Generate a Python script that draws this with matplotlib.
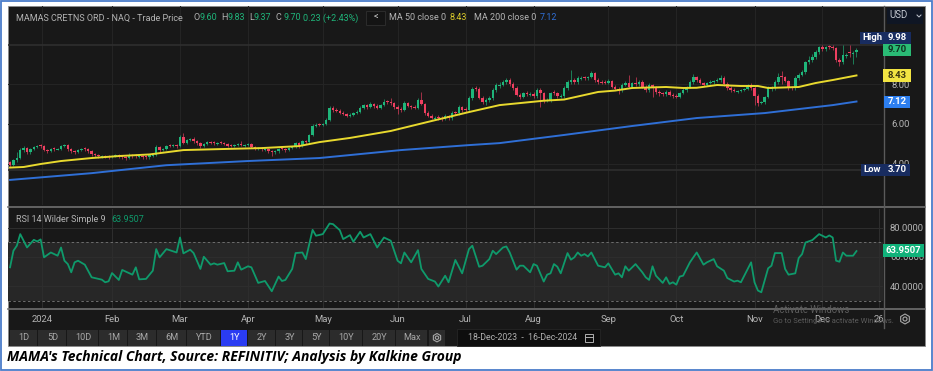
#!/bin/env python3

import matplotlib
matplotlib.use("Agg")
import matplotlib.pyplot as plt
from matplotlib.patches import Rectangle, RegularPolygon, Circle

W, H = 933, 371
plt.rcParams['font.family'] = ['Roboto', 'DejaVu Sans']

# daily candles, 18-Dec-2023 to 16-Dec-2024
opens = [
    4.08, 3.93, 4.18, 4.28, 4.68, 4.78, 4.58, 4.73, 4.83, 4.93,
    4.88, 4.68, 4.63, 4.78, 4.70, 4.73, 4.88, 4.93, 4.73, 4.63,
    4.58, 4.68, 4.78, 4.73, 4.63, 4.48, 4.43, 4.33, 4.38, 4.36,
    4.33, 4.38, 4.43, 4.38, 4.33, 4.28, 4.43, 4.42, 4.34, 4.38,
    4.37, 4.33, 4.40, 4.43, 4.83, 4.68, 4.73, 4.92, 4.88, 4.93,
    4.88, 5.34, 5.03, 5.19, 5.24, 5.13, 5.03, 4.88, 4.98, 5.08,
    5.07, 4.99, 5.07, 5.03, 4.98, 4.92, 4.88, 4.93, 4.98, 4.90,
    4.93, 4.98, 4.83, 4.74, 4.78, 4.69, 4.73, 4.63, 4.58, 4.63,
    4.77, 4.73, 4.68, 4.78, 4.83, 5.03, 4.88, 5.13, 5.08, 5.44,
    5.89, 5.98, 5.94, 5.99, 6.19, 6.79, 6.69, 6.64, 6.54, 6.49,
    6.39, 6.44, 6.54, 6.59, 6.79, 6.94, 6.84, 6.99, 6.89, 6.79,
    6.94, 7.13, 7.09, 7.04, 6.84, 6.74, 6.69, 7.04, 6.89, 6.84,
    6.79, 7.19, 6.99, 6.54, 6.39, 6.25, 6.33, 6.29, 6.24, 6.39,
    6.29, 6.58, 6.54, 6.84, 6.73, 6.69, 7.30, 7.80, 7.75, 7.30,
    7.09, 7.19, 7.30, 7.70, 7.90, 7.95, 8.10, 8.20, 8.00, 7.80,
    7.45, 7.35, 7.55, 7.45, 7.50, 7.40, 7.70, 7.55, 7.14, 7.19,
    7.60, 7.55, 7.35, 7.40, 7.80, 8.10, 8.20, 8.10, 8.25, 8.35,
    8.30, 8.35, 8.55, 8.20, 8.10, 8.10, 8.05, 8.15, 7.85, 7.75,
    7.70, 7.95, 8.05, 7.85, 8.05, 8.00, 8.10, 7.85, 7.70, 7.95,
    7.85, 7.60, 7.55, 7.50, 7.60, 7.45, 7.40, 7.35, 7.55, 7.70,
    7.85, 8.10, 8.35, 8.20, 8.05, 7.95, 8.05, 8.10, 8.15, 8.20,
    8.30, 8.00, 7.80, 7.70, 7.61, 7.65, 7.70, 7.75, 7.95, 7.80,
    7.40, 7.04, 7.09, 7.35, 7.75, 7.80, 8.10, 8.40, 8.35, 8.15,
    7.85, 7.80, 8.30, 8.45, 8.60, 9.10, 9.20, 9.35, 9.61, 9.86,
    9.76, 9.90, 9.86, 9.81, 9.20, 9.10, 9.42, 9.60, 9.50, 9.60,
]
closes = [
    3.93, 4.18, 4.28, 4.68, 4.78, 4.58, 4.73, 4.83, 4.88, 4.88,
    4.68, 4.63, 4.73, 4.73, 4.73, 4.88, 4.93, 4.73, 4.63, 4.58,
    4.68, 4.73, 4.73, 4.63, 4.48, 4.43, 4.38, 4.38, 4.33, 4.33,
    4.38, 4.43, 4.38, 4.33, 4.28, 4.43, 4.38, 4.38, 4.38, 4.33,
    4.33, 4.43, 4.43, 4.83, 4.68, 4.73, 4.88, 4.88, 4.93, 4.88,
    5.34, 5.03, 5.19, 5.24, 5.13, 5.03, 4.88, 4.98, 5.08, 5.03,
    5.03, 5.03, 5.03, 4.98, 4.88, 4.88, 4.93, 4.98, 4.93, 4.93,
    4.98, 4.83, 4.78, 4.78, 4.73, 4.73, 4.63, 4.58, 4.63, 4.73,
    4.73, 4.68, 4.78, 4.83, 5.03, 4.88, 5.13, 5.08, 5.44, 5.89,
    5.94, 5.94, 5.99, 6.19, 6.79, 6.69, 6.64, 6.54, 6.49, 6.39,
    6.44, 6.54, 6.59, 6.79, 6.94, 6.84, 6.99, 6.89, 6.79, 6.94,
    7.09, 7.09, 7.04, 6.84, 6.74, 6.69, 7.04, 6.89, 6.84, 6.79,
    7.19, 6.99, 6.54, 6.39, 6.29, 6.29, 6.29, 6.24, 6.39, 6.29,
    6.54, 6.54, 6.84, 6.69, 6.69, 7.30, 7.75, 7.75, 7.30, 7.09,
    7.19, 7.30, 7.70, 7.95, 7.95, 8.10, 8.20, 8.00, 7.80, 7.45,
    7.35, 7.55, 7.50, 7.50, 7.40, 7.70, 7.55, 7.14, 7.19, 7.55,
    7.55, 7.40, 7.40, 7.80, 8.10, 8.20, 8.10, 8.30, 8.30, 8.30,
    8.35, 8.55, 8.20, 8.10, 8.05, 8.05, 8.15, 7.85, 7.75, 7.70,
    7.95, 8.05, 7.85, 8.05, 8.00, 8.10, 7.85, 7.70, 7.95, 7.85,
    7.60, 7.55, 7.50, 7.60, 7.45, 7.40, 7.35, 7.55, 7.70, 7.85,
    8.10, 8.35, 8.20, 8.05, 7.95, 8.05, 8.10, 8.15, 8.20, 8.30,
    8.00, 7.80, 7.70, 7.65, 7.65, 7.70, 7.75, 7.95, 7.80, 7.40,
    7.04, 7.09, 7.35, 7.80, 7.80, 8.10, 8.35, 8.35, 8.15, 7.85,
    7.80, 8.30, 8.45, 8.60, 9.10, 9.20, 9.35, 9.61, 9.86, 9.76,
    9.86, 9.86, 9.81, 9.20, 9.10, 9.46, 9.46, 9.56, 9.56, 9.70,
]
highs = [
    4.15, 4.25, 4.60, 4.80, 4.90, 4.85, 4.80, 4.90, 4.95, 4.98,
    4.95, 4.75, 4.80, 4.82, 4.80, 4.95, 5.00, 5.00, 4.80, 4.68,
    4.75, 4.80, 4.85, 4.78, 4.68, 4.55, 4.48, 4.43, 4.45, 4.42,
    4.45, 4.50, 4.50, 4.45, 4.38, 4.52, 4.50, 4.48, 4.45, 4.45,
    4.45, 4.50, 4.50, 4.95, 4.90, 4.80, 4.95, 5.00, 5.00, 5.00,
    5.42, 5.55, 5.25, 5.30, 5.32, 5.20, 5.10, 5.05, 5.15, 5.15,
    5.12, 5.08, 5.12, 5.10, 5.05, 5.00, 5.00, 5.05, 5.15, 5.00,
    5.05, 5.05, 4.90, 4.85, 4.85, 4.80, 4.80, 4.70, 4.70, 4.80,
    4.85, 4.80, 4.85, 4.90, 5.10, 5.10, 5.20, 5.20, 5.50, 5.98,
    6.05, 6.05, 6.05, 6.30, 6.90, 6.88, 6.80, 6.72, 6.62, 6.55,
    6.52, 6.60, 6.70, 6.88, 7.02, 7.00, 7.08, 7.05, 7.00, 7.02,
    7.25, 7.22, 7.30, 7.12, 6.92, 6.85, 7.15, 7.12, 6.95, 6.92,
    7.32, 7.60, 7.05, 6.62, 6.48, 6.40, 6.42, 6.38, 6.48, 6.45,
    6.62, 6.65, 6.92, 6.90, 6.82, 7.38, 7.85, 7.92, 7.85, 7.38,
    7.28, 7.38, 7.78, 8.05, 8.08, 8.18, 8.32, 8.28, 8.08, 7.88,
    7.55, 7.62, 7.65, 7.60, 7.58, 7.80, 7.78, 7.62, 7.28, 7.62,
    7.70, 7.62, 7.50, 7.88, 8.18, 8.68, 8.30, 8.38, 8.40, 8.42,
    8.42, 8.65, 8.62, 8.28, 8.18, 8.18, 8.25, 8.22, 7.95, 7.85,
    8.05, 8.15, 8.45, 8.12, 8.35, 8.18, 8.18, 7.95, 8.05, 8.02,
    7.92, 7.70, 7.62, 7.68, 7.70, 7.55, 7.48, 7.62, 7.78, 7.92,
    8.18, 8.50, 8.42, 8.28, 8.12, 8.12, 8.18, 8.22, 8.28, 8.45,
    8.40, 8.08, 7.88, 7.78, 7.72, 7.75, 7.82, 8.02, 8.05, 7.88,
    7.48, 7.15, 7.42, 7.88, 7.90, 8.18, 8.55, 8.65, 8.42, 8.22,
    7.92, 8.38, 8.55, 8.68, 9.18, 9.40, 9.50, 9.70, 9.92, 9.95,
    9.92, 9.96, 9.98, 9.88, 9.30, 9.95, 9.55, 9.95, 9.66, 9.83,
]
lows = [
    3.85, 3.88, 4.10, 4.22, 4.60, 4.50, 4.50, 4.68, 4.76, 4.80,
    4.62, 4.55, 4.58, 4.65, 4.66, 4.68, 4.82, 4.65, 4.55, 4.50,
    4.52, 4.62, 4.65, 4.55, 4.40, 4.35, 4.30, 4.28, 4.26, 4.25,
    4.28, 4.32, 4.30, 4.25, 4.18, 4.22, 4.28, 4.30, 4.28, 4.25,
    4.25, 4.25, 4.35, 4.38, 4.60, 4.62, 4.68, 4.82, 4.82, 4.80,
    4.82, 4.98, 4.98, 5.12, 5.05, 4.95, 4.80, 4.82, 4.92, 4.98,
    4.95, 4.95, 4.98, 4.92, 4.82, 4.82, 4.82, 4.88, 4.86, 4.84,
    4.88, 4.76, 4.70, 4.68, 4.65, 4.62, 4.55, 4.38, 4.50, 4.55,
    4.66, 4.60, 4.62, 4.72, 4.78, 4.80, 4.82, 5.00, 5.00, 5.38,
    5.82, 5.88, 5.88, 5.92, 6.12, 6.60, 6.58, 6.48, 6.42, 6.32,
    6.32, 6.38, 6.48, 6.52, 6.72, 6.75, 6.78, 6.80, 6.72, 6.72,
    6.88, 7.00, 6.95, 6.75, 6.50, 6.60, 6.62, 6.82, 6.75, 6.72,
    6.72, 6.92, 6.45, 6.32, 6.22, 6.18, 6.20, 6.15, 6.18, 6.20,
    6.18, 6.45, 6.45, 6.60, 6.60, 6.62, 7.22, 7.65, 7.25, 7.02,
    6.95, 7.10, 7.22, 7.62, 7.82, 7.88, 8.02, 7.92, 7.72, 7.38,
    7.25, 7.28, 7.42, 7.38, 7.30, 7.32, 6.85, 7.05, 7.08, 7.12,
    7.45, 7.32, 7.28, 7.32, 7.72, 8.00, 8.02, 8.02, 8.18, 8.22,
    8.22, 8.28, 8.12, 8.02, 7.98, 7.98, 7.98, 7.78, 7.68, 7.50,
    7.62, 7.88, 7.78, 7.78, 7.92, 7.92, 7.78, 7.62, 7.62, 7.35,
    7.52, 7.42, 7.42, 7.42, 7.38, 7.32, 7.28, 7.28, 7.48, 7.62,
    7.78, 8.02, 8.12, 7.98, 7.88, 7.88, 7.98, 8.02, 8.08, 8.12,
    7.92, 7.72, 7.62, 7.58, 7.55, 7.60, 7.65, 7.68, 7.72, 6.95,
    6.90, 6.98, 7.02, 7.28, 7.65, 7.72, 8.02, 8.00, 8.08, 7.70,
    7.70, 7.72, 8.22, 8.38, 8.52, 9.02, 9.12, 9.28, 9.52, 9.68,
    9.65, 9.78, 9.70, 9.10, 8.92, 9.02, 9.30, 9.35, 9.00, 9.37,
]

ma50_day = [0, 4, 9, 15, 24, 32, 41, 51, 62, 74, 85, 91, 100, 112, 124, 135,
            144, 157, 163, 173, 178, 183, 193, 198, 202, 208, 215, 220, 223,
            232, 237, 242, 249]
ma50 = [3.80, 3.83, 3.98, 4.13, 4.28, 4.38, 4.46, 4.68, 4.73, 4.78, 4.88,
        5.08, 5.29, 5.64, 6.14, 6.59, 6.94, 7.16, 7.22, 7.60, 7.67, 7.80,
        7.85, 7.80, 7.81, 7.95, 7.90, 7.90, 7.80, 7.85, 8.05, 8.20, 8.43]

ma200_day = [0, 24, 46, 70, 91, 115, 135, 144, 163, 183, 202, 222, 232, 242, 249]
ma200 = [3.18, 3.52, 3.92, 4.13, 4.28, 4.68, 4.93, 5.03, 5.44, 5.89, 6.29,
         6.54, 6.74, 6.94, 7.12]

rsi_day = [
    0, 1, 2, 3, 5, 7, 8, 9, 10, 12, 14, 15, 16, 17, 18, 19, 20, 22, 24, 27,
    28, 29, 30, 32, 33, 35, 36, 37, 38, 40, 42, 43, 44, 46, 49, 50, 51, 53,
    54, 56, 57, 59, 60, 61, 63, 64, 66, 67, 68, 70, 71, 73, 75, 77, 79, 80,
    81, 83, 84, 86, 87, 89, 90, 92, 94, 95, 97, 98, 100, 101, 103, 104, 106,
    108, 110, 112, 114, 115, 116, 118, 120, 121, 123, 125, 126, 128, 129,
    131, 133, 135, 136, 138, 139, 141, 142, 143, 145, 146, 147, 149, 150,
    151, 153, 154, 155, 157, 158, 159, 160, 161, 162, 164, 165, 166, 167,
    168, 169, 170, 171, 173, 175, 176, 178, 179, 180, 181, 182, 184, 186,
    187, 188, 189, 190, 192, 193, 194, 195, 196, 197, 198, 200, 202, 204,
    205, 207, 208, 210, 211, 213, 214, 215, 218, 219, 220, 221, 223, 224,
    225, 227, 228, 229, 231, 232, 233, 234, 236, 238, 240, 241, 242, 243,
    244, 245, 246, 248, 249,
]
rsi = [
    52.9, 64.2, 67.6, 75.5, 66.4, 71.6, 70.5, 71.9, 59.7, 63.0, 60.8, 66.4,
    57.4, 55.1, 49.5, 56.3, 57.4, 54.7, 46.1, 44.5, 42.7, 43.4, 49.0, 44.3,
    51.1, 49.0, 47.9, 52.9, 44.7, 45.0, 50.6, 65.3, 59.7, 65.3, 63.0, 73.2,
    62.4, 64.9, 62.6, 51.8, 60.1, 54.7, 55.6, 54.7, 55.8, 50.2, 50.6, 56.3,
    51.3, 53.6, 52.9, 42.3, 43.6, 36.6, 46.6, 43.6, 44.3, 51.8, 62.6, 63.0,
    58.5, 78.4, 74.4, 75.5, 82.7, 82.3, 78.2, 72.1, 74.8, 70.3, 77.1, 73.2,
    75.5, 66.4, 73.2, 71.0, 57.4, 55.6, 63.0, 56.3, 64.6, 51.8, 45.0, 43.2,
    39.8, 47.2, 42.7, 57.9, 48.8, 65.3, 67.6, 53.3, 54.0, 58.5, 64.2, 61.9,
    66.4, 67.1, 63.0, 51.3, 54.0, 54.0, 49.5, 55.1, 54.0, 43.2, 47.9, 48.8,
    55.1, 53.3, 48.8, 62.6, 58.1, 59.7, 63.0, 60.8, 61.9, 60.3, 63.0, 54.0,
    52.9, 55.6, 47.9, 48.8, 46.1, 53.6, 50.6, 55.1, 49.5, 46.1, 44.3, 53.6,
    47.2, 42.3, 46.1, 41.6, 42.7, 41.1, 46.6, 47.2, 56.3, 63.0, 54.7, 56.3,
    58.5, 53.6, 50.6, 45.6, 43.2, 43.8, 42.7, 56.3, 42.7, 37.1, 35.9, 52.2,
    54.0, 62.6, 62.6, 51.8, 47.9, 48.8, 59.2, 61.9, 69.8, 71.4, 75.5, 73.2,
    74.6, 73.2, 57.4, 56.7, 63.0, 60.8, 60.8, 63.95,
]

month_pos = [9.4, 30, 50, 70, 92, 114, 134, 154, 176, 196, 219, 239, 255.6]
month_labels = ["2024", "Feb", "Mar", "Apr", "May", "Jun", "Jul", "Aug", "Sep",
                "Oct", "Nov", "Dec", "26"]
price_ticks = [4, 6, 8]
rsi_ticks = [40, 60, 80]
ranges = ["1D", "5D", "10D", "1M", "3M", "6M", "YTD", "1Y", "2Y", "3Y", "5Y",
          "10Y", "20Y", "Max"]
range_edges = [10, 38, 67, 99, 128, 157, 187, 221, 248, 276, 303, 330, 363, 396, 428]

BG = "#181818"
GRID = "#242424"
TXT = "#b4b4b4"
GREEN = "#1fb57a"
RED = "#ee3f60"


def px_axes(fig, x0, y0, x1, y1):
    # axes given in picture pixels, y from the top
    return fig.add_axes([x0 / W, 1 - y1 / H, (x1 - x0) / W, (y1 - y0) / H])


fig = plt.figure(figsize=(W / 100, H / 100), dpi=100, facecolor="white")

back = px_axes(fig, 0, 0, W, H)
back.set_xlim(0, W)
back.set_ylim(H, 0)
back.axis("off")
back.add_patch(Rectangle((1, 1), W - 2, H - 2, fc="white", ec="#4a7cc9", lw=1.3))
back.add_patch(Rectangle((8, 6), 917, 339.5, fc=BG, ec="#8a8a8a", lw=0.6))

xlim = (-0.6, 256.8)

# price panel
ax = px_axes(fig, 8, 6, 883, 205)
ax.set_facecolor("none")
ax.set_xlim(*xlim)
ax.set_ylim(1.92, 11.92)
for s in ax.spines.values():
    s.set_visible(False)
ax.yaxis.tick_right()
ax.set_yticks(price_ticks)
ax.set_yticklabels(["4.00", "6.00", "8.00"], color=TXT, fontsize=6.8)
ax.tick_params(axis="y", length=0, pad=6)
ax.set_xticks(month_pos[:-1])
ax.tick_params(axis="x", length=0, labelbottom=False)
ax.grid(True, color=GRID, lw=0.8)
ax.axhline(9.98, color="#2e2e2e", lw=1.2)
ax.axhline(3.70, color="#2e2e2e", lw=1.2)
ax.set_axisbelow(True)

days = list(range(len(closes)))
colors = [GREEN if c >= o else RED for o, c in zip(opens, closes)]
ax.vlines(days, lows, highs, colors=colors, lw=0.6, alpha=0.75, zorder=2)
ax.bar(days, [abs(c - o) for o, c in zip(opens, closes)],
       bottom=[min(o, c) for o, c in zip(opens, closes)],
       width=0.72, color=colors, lw=0, zorder=3)
ax.plot(ma200_day, ma200, color="#2f6fd6", lw=1.4, zorder=4)
ax.plot(ma50_day, ma50, color="#e8d92e", lw=1.4, zorder=5)

# RSI panel
ax2 = px_axes(fig, 8, 209, 883, 308)
ax2.set_facecolor("none")
ax2.set_xlim(*xlim)
ax2.set_ylim(25.2, 92.6)
for s in ax2.spines.values():
    s.set_visible(False)
ax2.axhspan(30, 70, color="#272727", lw=0, zorder=0)
ax2.axhline(70, color="#6e6e6e", lw=0.7, ls=(0, (2.5, 2.5)))
ax2.axhline(30, color="#6e6e6e", lw=0.7, ls=(0, (2.5, 2.5)))
ax2.yaxis.tick_right()
ax2.set_yticks(rsi_ticks)
ax2.set_yticklabels(["40.0000", "60.0000", "80.0000"], color=TXT, fontsize=6.8)
ax2.tick_params(axis="y", length=0, pad=5)
ax2.set_xticks(month_pos)
ax2.set_xticklabels(month_labels, color=TXT, fontsize=6.8)
ax2.tick_params(axis="x", length=0, pad=5)
ax2.grid(True, color="#2e2e2e", lw=0.7)
ax2.set_axisbelow(True)
ax2.plot(rsi_day, rsi, color="#0f9a6b", lw=1.3, zorder=4)

# overlay: separators, badges, toolbar and header text
top = px_axes(fig, 0, 0, W, H)
top.set_xlim(0, W)
top.set_ylim(H, 0)
top.axis("off")
top.set_facecolor("none")
for yy in (206.8, 308.6):
    top.plot([8, 925], [yy, yy], color="#6f6f6f", lw=1.2)
top.plot([883.5, 883.5], [6, 328], color="#5a5a5a", lw=1.0)


def label(x, y, s, color=TXT, size=6.5, ha="left", **kw):
    top.text(x, y, s, color=color, fontsize=size, ha=ha, va="center", **kw)


def badge(x0, x1, y0, y1, s, fc, color="white"):
    top.add_patch(Rectangle((x0, y0), x1 - x0, y1 - y0, fc=fc, lw=0, zorder=6))
    label((x0 + x1) / 2, (y0 + y1) / 2, s, color=color, ha="center", zorder=7,
          size=6.8, fontweight="bold")


label(16, 18, "MAMAS CRETNS ORD - NAQ - Trade Price")
for x, s, c in [(193, "O", TXT), (199, "9.60", GREEN), (221, "H", TXT),
                (228, "9.83", GREEN), (249, "L", TXT), (254, "9.37", GREEN),
                (275, "C", TXT), (283, "9.70", GREEN),
                (303, "0.23 (+2.43%)", GREEN),
                (389, "MA 50 close 0", TXT), (450, "8.43", "#d9c92b"),
                (474, "MA 200 close 0", TXT), (540, "7.12", "#2f6fd6")]:
    label(x, 18, s, color=c)
top.add_patch(Rectangle((366, 10.5), 19, 14, fc="#141414", ec="#2c2c2c", lw=0.7))
label(375.5, 17.5, "<", color="#d0d0d0", ha="center")
top.add_patch(Rectangle((887, 7.5), 36, 16.5, fc="#0f1624", lw=0))
label(889, 15.5, "USD", color="#c4c8d0", size=7)
top.plot([917, 919, 921], [15, 17, 15], color="#c4c8d0", lw=0.7)

badge(860, 884, 32, 43.5, "High", "#182c60")
badge(884, 911, 32, 43.5, "9.98", "#182c60")
badge(883, 911, 44, 56, "9.70", "#2abb75", color="#10301f")
badge(883, 911, 69, 82, "8.43", "#f2e442", color="#3a3510")
badge(884, 910, 96, 107.5, "7.12", "#2d7ff0")
badge(861, 884, 164, 176, "Low", "#182c60")
badge(884, 910, 164, 176, "3.70", "#182c60")
badge(883, 924, 244, 257, "63.9507", "#10b27a")

label(16, 219, "RSI 14 Wilder Simple 9")
label(111, 219, "63.9507", color="#0f9a6b")

# range buttons
for name, a, b in zip(ranges, range_edges[:-1], range_edges[1:]):
    sel = name == "1Y"
    top.add_patch(Rectangle((a, 330), b - a - 0.8, 15.5,
                            fc="#2a3cf2" if sel else "#2c2c2c", lw=0))
    label((a + b) / 2, 338, name, color="white" if sel else "#a8a8a8",
          size=6.6, ha="center")
top.add_patch(Rectangle((429, 330), 16, 15.5, fc="#2c2c2c", lw=0))
for cx, cy, rr in [(437, 337.7, 4.2), (905, 319, 5)]:
    top.add_patch(RegularPolygon((cx, cy), 6, radius=rr, fc="none", ec="#a8a8a8", lw=0.8))
    top.add_patch(Circle((cx, cy), rr * 0.4, fc="none", ec="#a8a8a8", lw=0.8))

top.add_patch(Rectangle((457, 329), 143, 16.5, fc="#0e0e0e", ec="#262626", lw=0.6))
label(468, 338, "18-Dec-2023  -  16-Dec-2024", color="#b0b0b0", size=6.3)
top.add_patch(Rectangle((584.5, 334), 8, 8, fc="none", ec="#b0b0b0", lw=0.7))
top.plot([584.5, 592.5], [336.5, 336.5], color="#b0b0b0", lw=0.7)

label(773, 310, "Activate Windows", color="#5c5c5c", size=6.9, zorder=8)
label(773, 320.5, "Go to Settings to activate Windows.", color="#5c5c5c", size=5.5, zorder=8)

label(7, 356.5, "MAMA's Technical Chart, Source: REFINITIV; Analysis by Kalkine Group",
      color="black", size=10, fontweight="bold", fontstyle="italic",
      family=["Open Sans", "DejaVu Sans"])

fig.savefig("out.png", dpi=100, facecolor="white")
